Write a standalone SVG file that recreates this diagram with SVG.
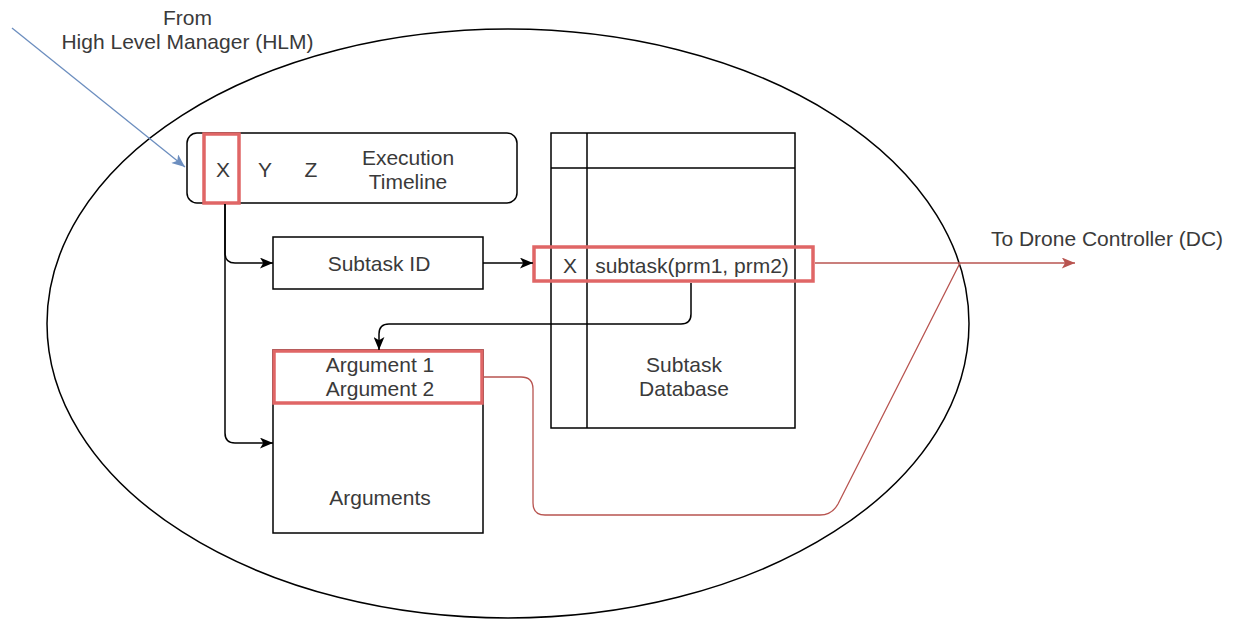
<svg xmlns="http://www.w3.org/2000/svg" width="1236" height="619" viewBox="0 0 1236 619">
<defs>
<style>
text{font-family:"Liberation Sans",Arial,sans-serif;font-size:21px;fill:#3a3a3a;text-anchor:middle}
.box{fill:#fff;stroke:#000;stroke-width:1.5}
.hl{fill:none;stroke:#e06666;stroke-width:3.5}
.ln{fill:none;stroke:#000;stroke-width:1.5}
.red{fill:none;stroke:#b85450;stroke-width:1.3}
.blue{fill:none;stroke:#6c8ebf;stroke-width:1.3}
</style>
<marker id="ab" viewBox="0 0 12 10" refX="12" refY="5" markerWidth="13" markerHeight="11" markerUnits="userSpaceOnUse" orient="auto"><path d="M0,0 L12,5 L0,10 L3,5 Z" fill="#000"/></marker>
<marker id="ar" viewBox="0 0 12 10" refX="12" refY="5" markerWidth="14" markerHeight="11" markerUnits="userSpaceOnUse" orient="auto"><path d="M0,0 L12,5 L0,10 L3,5 Z" fill="#b85450"/></marker>
<marker id="au" viewBox="0 0 12 10" refX="12" refY="5" markerWidth="14" markerHeight="11" markerUnits="userSpaceOnUse" orient="auto"><path d="M0,0 L12,5 L0,10 L3,5 Z" fill="#6c8ebf"/></marker>
</defs>
<rect width="1236" height="619" fill="#fff"/>
<g id="boundary"><ellipse cx="508" cy="323.5" rx="461" ry="294.5" fill="none" stroke="#000" stroke-width="1.5"/></g>
<g id="hlm-label"><text x="187.5" y="25">From</text><text x="187.5" y="49">High Level Manager (HLM)</text></g>
<g id="dc-label"><text x="1107" y="246">To Drone Controller (DC)</text></g>
<g id="timeline">
<rect class="box" x="187" y="133" width="330" height="70" rx="10"/>
<text x="223" y="177">X</text><text x="265" y="177">Y</text><text x="311" y="177">Z</text>
<text x="408" y="165">Execution</text><text x="408" y="189">Timeline</text>
<rect class="hl" x="204" y="134" width="35" height="69"/>
</g>
<g id="subtask-id"><rect class="box" x="273" y="237" width="210" height="52"/><text x="379" y="271">Subtask ID</text></g>
<g id="database">
<rect class="box" x="551" y="133" width="244" height="295"/>
<line class="ln" x1="587" y1="133" x2="587" y2="428"/>
<line class="ln" x1="551" y1="168" x2="795" y2="168"/>
<text x="684" y="372">Subtask</text><text x="684" y="396">Database</text>
<text x="570" y="273">X</text><text x="692" y="273">subtask(prm1, prm2)</text>
<rect class="hl" x="534" y="247" width="279" height="34"/>
</g>
<g id="arguments">
<rect class="box" x="273" y="350" width="210" height="183"/>
<text x="380" y="372">Argument 1</text><text x="380" y="396">Argument 2</text>
<text x="380" y="505">Arguments</text>
<rect class="hl" x="274" y="351" width="208" height="52"/>
</g>
<g id="connectors">
<path class="blue" d="M12,28 L185,167" marker-end="url(#au)"/>
<path class="ln" d="M225,204 V253 Q225,263 235,263 H273" marker-end="url(#ab)"/>
<path class="ln" d="M225,204 V433 Q225,443 235,443 H273" marker-end="url(#ab)"/>
<path class="ln" d="M483,263 H533" marker-end="url(#ab)"/>
<path class="ln" d="M691,283 V314 Q691,324 681,324 H389 Q379,324 379,334 V350" marker-end="url(#ab)"/>
<path class="red" d="M815,263 H1075" marker-end="url(#ar)"/>
<path class="red" d="M484,377 H521 Q533,377 533,389 V503 Q533,515 545,515 H820 Q832,515 838,504 L960,263"/>
</g>
</svg>
